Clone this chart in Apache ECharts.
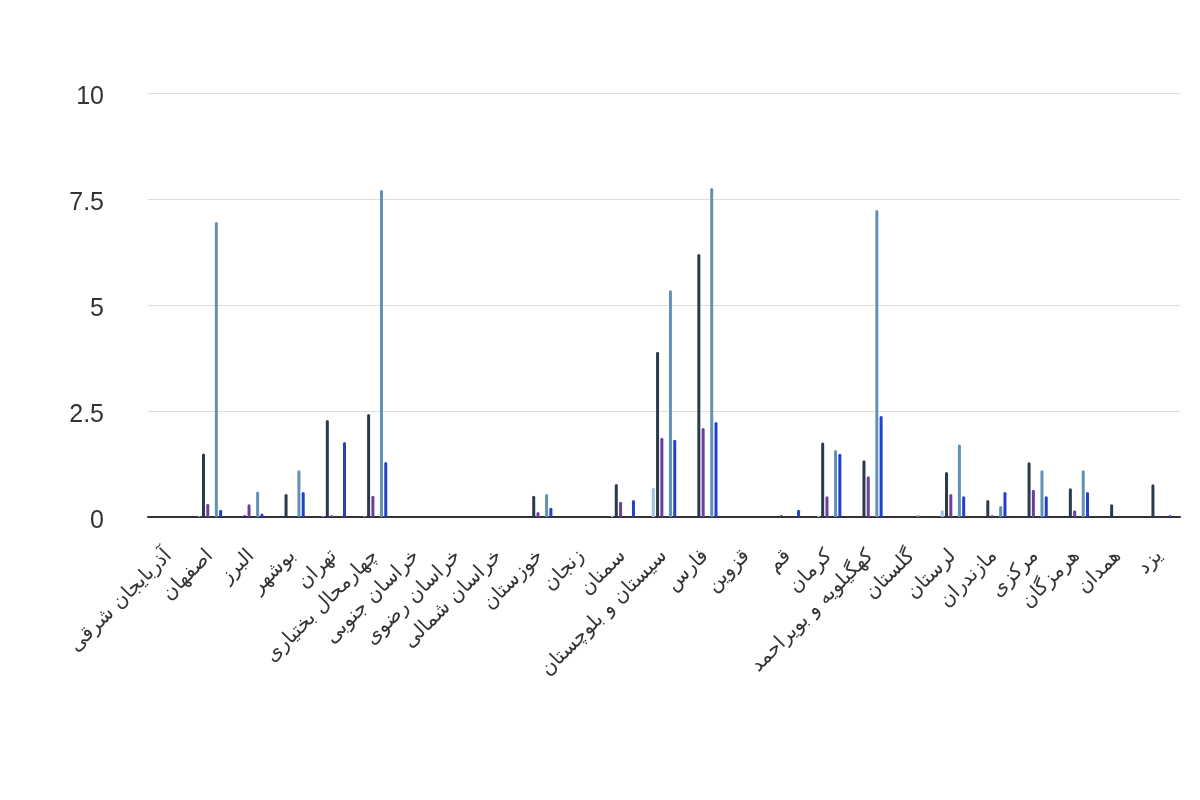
<!DOCTYPE html>
<html>
<head>
<meta charset="utf-8">
<script src="https://cdn.jsdelivr.net/npm/echarts@6/dist/echarts.min.js"></script>
<style>
html,body{margin:0;padding:0;background:#fff;}
#chart{width:1200px;height:800px;}
</style>
</head>
<body>
<div id="chart"></div>
<script>
const categories = ['آذربایجان شرقی','اصفهان','البرز','بوشهر','تهران','چهارمحال بختیاری','خراسان جنوبی','خراسان رضوی','خراسان شمالی','خوزستان','زنجان','سمنان','سیستان و بلوچستان','فارس','قزوین','قم','کرمان','کهگیلویه و بویراحمد','گلستان','لرستان','مازندران','مرکزی','هرمزگان','همدان','یزد'];
const series1 = [0,0.02,0,0,0.02,0.02,0,0,0,0,0,0.03,0.69,0,0,0,0.03,0,0,0.16,0,0,0,0,0];
const series2 = [0,1.5,0.05,0.54,2.29,2.43,0,0,0,0.5,0,0.78,3.9,6.2,0,0.05,1.76,1.34,0,1.06,0.4,1.29,0.68,0.3,0.77];
const series3 = [0,0.31,0.3,0,0.05,0.5,0,0,0,0.12,0,0.36,1.87,2.1,0,0,0.49,0.96,0,0.54,0.05,0.64,0.16,0,0];
const series4 = [null,null,null,null,null,null,null,null,null,null,null,null,null,null,null,null,null,null,null,null,null,null,null,null,null];
const series5 = [0,6.96,0.6,1.1,0,7.71,0,0,0,0.54,0,0,5.35,7.76,0,0,1.58,7.24,0.05,1.71,0.26,1.1,1.1,0,0];
const series6 = [0,0.17,0.08,0.59,1.77,1.3,0,0,0,0.22,0,0.4,1.82,2.24,0,0.17,1.49,2.38,0,0.49,0.59,0.49,0.59,0,0.05];
const yTicks = [0, 2.5, 5, 7.5, 10];

const colors = ['#9cc2e6','#2a3a4e','#6a3fa0','#999999','#6092b8','#2241c8'];
const seriesData = [series1, series2, series3, series4, series5, series6];

const chart = echarts.init(document.getElementById('chart'));
chart.setOption({
  animation: false,
  backgroundColor: '#fff',
  grid: { left: 148, right: 20, top: 93, bottom: 283, containLabel: false },
  xAxis: {
    type: 'category',
    data: categories,
    axisLine: { lineStyle: { color: '#333', width: 2 } },
    axisTick: { show: false },
    axisLabel: {
      rotate: 45,
      interval: 0,
      fontSize: 20,
      color: '#333',
      margin: 36,
      fontFamily: 'DejaVu Sans, sans-serif'
    }
  },
  yAxis: {
    type: 'value',
    min: yTicks[0],
    max: yTicks[yTicks.length - 1],
    interval: 2.5,
    axisLine: { show: false },
    axisTick: { show: false },
    splitLine: { lineStyle: { color: '#dddddd', width: 1 } },
    axisLabel: {
      fontSize: 25,
      color: '#333',
      margin: 44,
      verticalAlign: 'top',
      lineHeight: 8,
      fontFamily: 'Liberation Sans, Arial, sans-serif'
    }
  },
  series: seriesData.map((d, i) => ({
    type: 'bar',
    name: 's' + (i + 1),
    data: d,
    barWidth: 3,
    barGap: '43%',
    itemStyle: { color: colors[i], borderRadius: [2, 2, 0, 0] }
  }))
});
</script>
</body>
</html>
